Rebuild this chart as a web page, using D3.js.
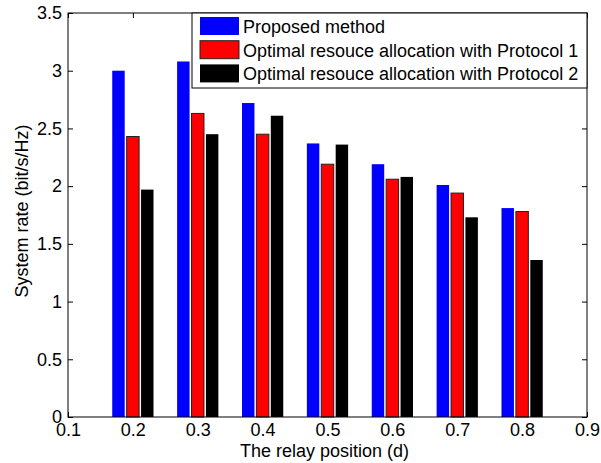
<!DOCTYPE html>
<html>
<head>
<meta charset="utf-8">
<script src="https://cdn.jsdelivr.net/npm/d3@7"></script>
<style>
  body { margin: 0; background: #fff; }
  text { font-family: "Liberation Sans", Arial, sans-serif; fill: #000; }
</style>
</head>
<body>
<div id="chart"></div>
<script>
// relay positions and system rates (bit/s/Hz)
const positions = [0.2, 0.3, 0.4, 0.5, 0.6, 0.7, 0.8];
const proposed = [3.0, 3.08, 2.72, 2.37, 2.19, 2.01, 1.81];
const protocol1 = [2.43, 2.63, 2.45, 2.19, 2.06, 1.94, 1.78];
const protocol2 = [1.97, 2.45, 2.61, 2.36, 2.08, 1.73, 1.36];
const seriesNames = ["Proposed method", "Optimal resouce allocation with Protocol 1", "Optimal resouce allocation with Protocol 2"];
const xTicks = [0.1, 0.2, 0.3, 0.4, 0.5, 0.6, 0.7, 0.8, 0.9];
const yTicks = [0, 0.5, 1, 1.5, 2, 2.5, 3, 3.5];

const W = 601, H = 463;
const pl = 68, pr = 587, pt = 13, pb = 417;

const svg = d3.select("#chart").append("svg")
    .attr("width", W)
    .attr("height", H);

const x = d3.scaleLinear().domain([0.1, 0.9]).range([pl, pr]);
const y = d3.scaleLinear().domain([0, 3.5]).range([pb, pt]);

const series = [
    {name: seriesNames[0], values: proposed, color: "#0000ff", stroke: "none", off: -0.0222},
    {name: seriesNames[1], values: protocol1, color: "#ff0000", stroke: "#222", off: 0},
    {name: seriesNames[2], values: protocol2, color: "#000000", stroke: "none", off: 0.0222}
];
const barW = 0.0192;

// ticks (inside, matlab style) on all four sides
const tl = 5;
const axB = d3.axisBottom(x).tickValues(xTicks).tickSizeInner(-tl).tickSizeOuter(0).tickPadding(6).tickFormat(d3.format(".1f"));
const axT = d3.axisTop(x).tickValues(xTicks).tickSizeInner(-tl).tickSizeOuter(0).tickFormat("");
const axL = d3.axisLeft(y).tickValues(yTicks).tickSizeInner(-tl).tickSizeOuter(0).tickPadding(6).tickFormat(d => d === 0 ? "0" : d3.format("")(d));
const axR = d3.axisRight(y).tickValues(yTicks).tickSizeInner(-tl).tickSizeOuter(0).tickFormat("");

function styleAxis(g) {
    g.select(".domain").remove();
    g.selectAll("line").attr("stroke", "#000");
    g.selectAll("text").style("font-size", "18px").attr("font-family", null);
}

svg.append("g").attr("transform", `translate(0,${pb})`).call(axB).call(styleAxis);
svg.append("g").attr("transform", `translate(0,${pt})`).call(axT).call(styleAxis);
svg.append("g").attr("transform", `translate(${pl},0)`).call(axL).call(styleAxis);
svg.append("g").attr("transform", `translate(${pr},0)`).call(axR).call(styleAxis);

// bars
series.forEach(s => {
    svg.append("g").selectAll("rect")
        .data(positions.map((p, i) => ({p, v: s.values[i]})))
        .join("rect")
        .attr("x", d => x(d.p + s.off - barW / 2))
        .attr("y", d => y(d.v))
        .attr("width", x(barW) - x(0))
        .attr("height", d => y(0) - y(d.v))
        .attr("fill", s.color)
        .attr("stroke", s.stroke)
        .attr("stroke-width", 1);
});

// box
svg.append("rect")
    .attr("x", pl).attr("y", pt)
    .attr("width", pr - pl).attr("height", pb - pt)
    .attr("fill", "none").attr("stroke", "#000").attr("stroke-width", 1);

// legend
const lg = svg.append("g");
lg.append("rect")
    .attr("x", 192).attr("y", pt)
    .attr("width", pr - 192).attr("height", 75)
    .attr("fill", "#fff").attr("stroke", "#000");
series.forEach((s, i) => {
    const cy = 26 + i * 23.7;
    lg.append("rect")
        .attr("x", 200).attr("y", cy - 9)
        .attr("width", 39).attr("height", 18)
        .attr("fill", s.color).attr("stroke", s.stroke);
    lg.append("text")
        .attr("x", 243).attr("y", cy + 7)
        .style("font-size", "18px")
        .text(s.name);
});

// axis labels
svg.append("text")
    .attr("x", (pl + pr) / 2 - 3).attr("y", 457)
    .attr("text-anchor", "middle")
    .style("font-size", "18px")
    .text("The relay position (d)");

svg.append("text")
    .attr("transform", `translate(28,211) rotate(-90)`)
    .attr("text-anchor", "middle")
    .style("font-size", "18px")
    .text("System rate (bit/s/Hz)");
</script>
</body>
</html>
